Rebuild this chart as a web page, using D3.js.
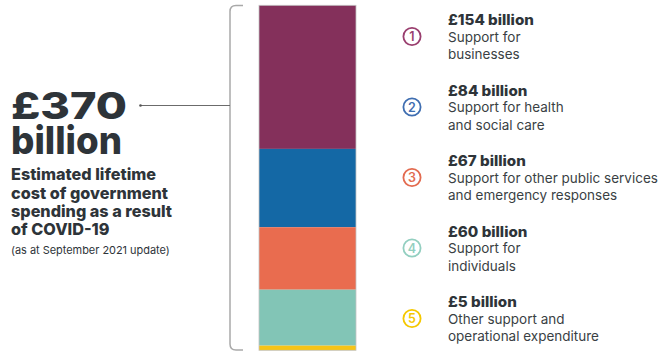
<!DOCTYPE html>
<html>
<head>
<meta charset="utf-8">
<script src="https://cdn.jsdelivr.net/npm/d3@7"></script>
<style>
html,body{margin:0;padding:0;background:#fff;}
svg{display:block;}
text{font-family:"Inter","Open Sans",sans-serif;fill:#2e3439;}
</style>
</head>
<body>
<svg id="chart" width="667" height="356"></svg>
<script>
const categories = ["Support for businesses","Support for health and social care","Support for other public services and emergency responses","Support for individuals","Other support and operational expenditure"];
const values = [154, 84, 67, 60, 5];
const valueLabels = ["£154 billion","£84 billion","£67 billion","£60 billion","£5 billion"];
const descLines = [["Support for","businesses"],["Support for health","and social care"],["Support for other public services","and emergency responses"],["Support for","individuals"],["Other support and","operational expenditure"]];
const barColors = ["#84305b","#1468a5","#e96c4f","#82c5b6","#f6c416"];
const circleColors = ["#9a3f6f","#3f6eb1","#e36b50","#93cfc0","#f5c800"];
const totalLabel = "£370";
const totalUnit = "billion";
const subtitleLines = ["Estimated lifetime","cost of government","spending as a result","of COVID-19"];
const noteText = "(as at September 2021 update)";

const svg = d3.select("#chart");
const total = d3.sum(values);
const y = d3.scaleLinear().domain([0, total]).range([5.3, 350.3]);
const stack = [];
let acc = 0;
values.forEach((v,i)=>{stack.push({i, v, y0: acc, y1: acc+v}); acc+=v;});

// stretch a group horizontally so that a reference text reaches a target width
function stretch(g, refNode, target, x0){
  const w = refNode.getComputedTextLength();
  const sx = target / w;
  g.attr("transform", `translate(${x0},0) scale(${sx},1) translate(${-x0},0)`);
}

// bar
svg.append("g").selectAll("rect").data(stack).join("rect")
  .attr("x", 259).attr("width", 97)
  .attr("y", d=>y(d.y0)).attr("height", d=>y(d.y1)-y(d.y0))
  .attr("fill", d=>barColors[d.i]);
svg.append("rect").attr("x",259).attr("y",y(0)).attr("width",97).attr("height",y(total)-y(0))
  .attr("fill","none").attr("stroke","#c4c4c4").attr("stroke-width",0.8);

// bracket
const bt = y(0)+0.2, bb = y(total)-0.3;
svg.append("path")
  .attr("d", `M243,${bt} H236 Q230,${bt} 230,${bt+6} V${bb-6} Q230,${bb} 236,${bb} H243`)
  .attr("fill","none").attr("stroke","#a9a9a9").attr("stroke-width",1.5);
// pointer
svg.append("line").attr("x1",140).attr("x2",230).attr("y1",105.5).attr("y2",105.5)
  .attr("stroke","#6b6b6b").attr("stroke-width",1);
svg.append("circle").attr("cx",140.5).attr("cy",105.5).attr("r",1.3).attr("fill","#555");

// left texts
const gBig1 = svg.append("g");
const big1 = gBig1.append("text").attr("x",11).attr("y",119.5).text(totalLabel)
  .style("font-size","37px").style("font-weight",800);
stretch(gBig1, big1.node(), 116, 11);
const gBig2 = svg.append("g");
const big2 = gBig2.append("text").attr("x",11).attr("y",154.5).text(totalUnit)
  .style("font-size","38px").style("font-weight",800);
stretch(gBig2, big2.node(), 111, 11);

const gSub = svg.append("g");
const subs = gSub.selectAll("text").data(subtitleLines).join("text")
  .attr("x",11).attr("y",(d,i)=>180.5+i*18.3).text(d=>d)
  .style("font-size","16.3px").style("font-weight",800);
stretch(gSub, subs.nodes()[2], 161, 11);

const gNote = svg.append("g");
const note = gNote.append("text").attr("x",11).attr("y",254.5).text(noteText)
  .style("font-size","11px");
stretch(gNote, note.node(), 159, 11);

// legend
const baseY = [25, 95.5, 166, 236.5, 307];
const lg = svg.append("g").selectAll("g").data(values).join("g")
  .attr("transform",(d,i)=>`translate(0,${baseY[i]})`);
lg.append("circle").attr("cx",412).attr("cy",11.5).attr("r",8.6)
  .attr("fill","none").attr("stroke",(d,i)=>circleColors[i]).attr("stroke-width",1.8);
lg.append("text").attr("x",412).attr("y",16).attr("text-anchor","middle")
  .text((d,i)=>i+1).style("font-size","12.5px").style("font-weight",600).style("fill",(d,i)=>circleColors[i]);
const gTitles = lg.append("g");
const titles = gTitles.append("text").attr("x",448).attr("y",0).text((d,i)=>valueLabels[i])
  .style("font-size","14.5px").style("font-weight",800);
const tw = titles.nodes()[0].getComputedTextLength();
gTitles.attr("transform", `translate(448,0) scale(${86/tw},1) translate(-448,0)`);
const gDesc = lg.append("g");
gDesc.each(function(d,i){
  d3.select(this).selectAll("text").data(descLines[i]).join("text")
    .attr("x",448).attr("y",(t,j)=>16.8+j*17.6).text(t=>t)
    .style("font-size","13.8px").style("fill","#3a3f44");
});
const refDesc = gDesc.nodes()[4].querySelectorAll("text")[1];
const dw = refDesc.getComputedTextLength();
gDesc.attr("transform", `translate(448,0) scale(${151/dw},1) translate(-448,0)`);
</script>
</body>
</html>
